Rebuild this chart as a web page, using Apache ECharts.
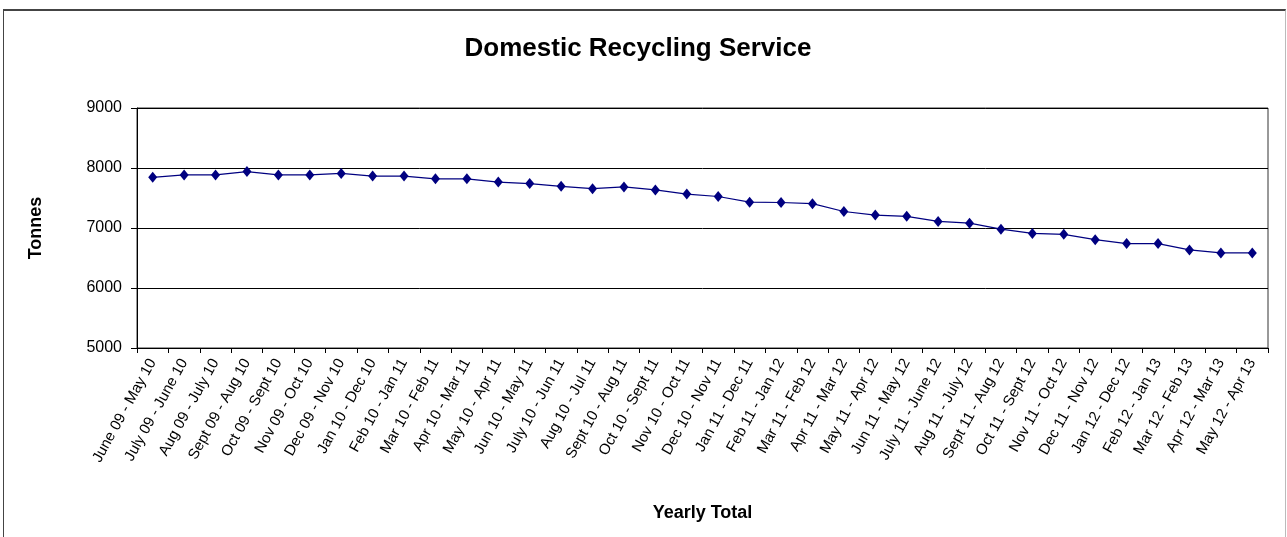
<!DOCTYPE html>
<html>
<head>
<meta charset="utf-8">
<script src="https://cdn.jsdelivr.net/npm/echarts@6/dist/echarts.min.js"></script>
<style>
  html, body { margin: 0; padding: 0; background: #fff; }
  #wrap { position: relative; width: 1287px; height: 537px; overflow: hidden; }
  #frame {
    position: absolute; left: 3px; top: 9px; width: 1281px; height: 540px;
    border-left: 1px solid #444; border-top: 2px solid #444; border-right: 1px solid #bbb;
  }
  #chart { position: absolute; left: 0; top: 0; width: 1287px; height: 537px; }
</style>
</head>
<body>
<div id="wrap">
  <div id="frame"></div>
  <div id="chart"></div>
</div>
<script>
// periods (rolling 12 months)
var periods = [
  'June 09 - May 10', 'July 09 - June 10', 'Aug 09 - July 10', 'Sept 09 - Aug 10',
  'Oct 09 - Sept 10', 'Nov 09 - Oct 10', 'Dec 09 - Nov 10', 'Jan 10 - Dec 10',
  'Feb 10 - Jan 11', 'Mar 10 - Feb 11', 'Apr 10 - Mar 11', 'May 10 - Apr 11',
  'Jun 10 - May 11', 'July 10 - Jun 11', 'Aug 10 - Jul 11', 'Sept 10 - Aug 11',
  'Oct 10 - Sept 11', 'Nov 10 - Oct 11', 'Dec 10 - Nov 11', 'Jan 11 - Dec 11',
  'Feb 11 - Jan 12', 'Mar 11 - Feb 12', 'Apr 11 - Mar 12', 'May 11 - Apr 12',
  'Jun 11 - May 12', 'July 11 - June 12', 'Aug 11 - July 12', 'Sept 11 - Aug 12',
  'Oct 11 - Sept 12', 'Nov 11 - Oct 12', 'Dec 11 - Nov 12', 'Jan 12 - Dec 12',
  'Feb 12 - Jan 13', 'Mar 12 - Feb 13', 'Apr 12 - Mar 13', 'May 12 - Apr 13'
]
// tonnes, yearly total
var tonnes = [
  7845, 7885, 7885, 7940, 7885, 7885, 7910, 7865, 7865, 7820, 7820, 7765,
  7740, 7695, 7655, 7685, 7635, 7565, 7525, 7430, 7425, 7405, 7275, 7215,
  7195, 7110, 7080, 6980, 6910, 6895, 6805, 6740, 6740, 6635, 6585, 6585
]
var yMin = 5000
var yMax = 9000
var yStep = 1000

var font = 'Liberation Sans, Arial, sans-serif'
var chart = echarts.init(document.getElementById('chart'))
chart.setOption({
  animation: false,
  title: {
    text: 'Domestic Recycling Service',
    left: 633,
    textAlign: 'center',
    top: 31,
    textStyle: { fontFamily: font, fontSize: 26, fontWeight: 'bold', color: '#000' }
  },
  grid: {
    left: 137,
    right: 19,
    top: 108,
    bottom: 189,
    show: true,
    borderColor: '#333',
    borderWidth: 1
  },
  xAxis: {
    type: 'category',
    data: periods,
    name: 'Yearly Total',
    nameLocation: 'middle',
    nameGap: 156,
    nameTextStyle: { fontFamily: font, fontSize: 18, fontWeight: 'bold', color: '#000' },
    axisLine: { lineStyle: { color: '#000', width: 1 } },
    axisTick: { show: true, length: 5, lineStyle: { color: '#000' } },
    axisLabel: {
      interval: 0,
      rotate: 61,
      margin: 12,
      fontFamily: font,
      fontSize: 15,
      color: '#000'
    }
  },
  yAxis: {
    type: 'value',
    min: yMin,
    max: yMax,
    interval: yStep,
    name: 'Tonnes',
    nameLocation: 'middle',
    nameGap: 92,
    nameTextStyle: { fontFamily: font, fontSize: 18, fontWeight: 'bold', color: '#000' },
    axisLine: { show: true, lineStyle: { color: '#000', width: 1 } },
    axisTick: { show: true, length: 6, lineStyle: { color: '#000' } },
    axisLabel: {
      margin: 15,
      fontFamily: font,
      fontSize: 16,
      color: '#000',
      formatter: function (v) { return String(v) }
    },
    splitLine: { show: true, lineStyle: { color: '#000', width: 1 } }
  },
  series: [
    {
      type: 'line',
      data: tonnes,
      symbol: 'diamond',
      symbolSize: [9, 11],
      lineStyle: { color: '#000080', width: 1.2 },
      itemStyle: { color: '#000080' }
    }
  ]
})
</script>
</body>
</html>
